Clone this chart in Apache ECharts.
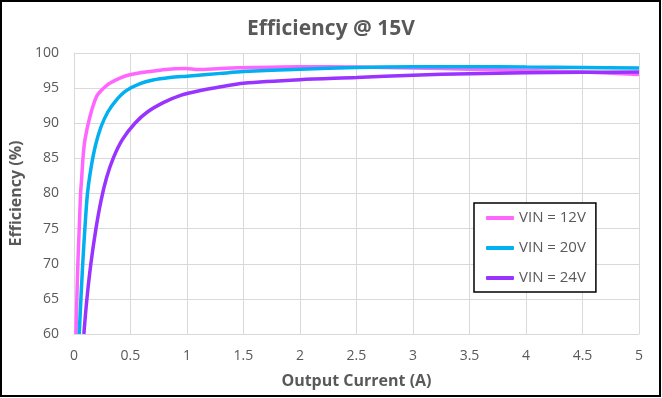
<!DOCTYPE html>
<html>
<head>
<meta charset="utf-8">
<script src="https://cdn.jsdelivr.net/npm/echarts@6/dist/echarts.min.js"></script>
<style>
  html, body { margin: 0; padding: 0; background: #fff; }
  #chart { width: 662px; height: 398px; }
</style>
</head>
<body>
<div id="chart"></div>
<script>
// data (output current A, efficiency %)
const seriesNames = ['VIN = 12V', 'VIN = 20V', 'VIN = 24V']

const x12 = [0.018, 0.026, 0.035, 0.047, 0.059, 0.068, 0.08, 0.097, 0.141, 0.2, 0.244, 0.317, 0.494, 0.788, 0.99, 1.1, 1.3, 1.6, 2.0, 2.5, 3.0, 3.5, 4.0, 4.5, 5.0]
const y12 = [60, 65, 70, 75, 80, 82, 85, 87.6, 90.9, 93.8, 94.7, 95.7, 96.9, 97.6, 97.8, 97.65, 97.8, 97.95, 98.05, 98.0, 97.85, 97.7, 97.5, 97.3, 96.95]

const x20 = [0.047, 0.062, 0.078, 0.097, 0.12, 0.15, 0.19, 0.24, 0.3, 0.37, 0.46, 0.58, 0.7, 0.85, 1.0, 1.3, 1.5, 2.0, 2.5, 3.0, 3.5, 4.0, 4.5, 5.0]
const y20 = [60, 65, 70, 75, 80, 83.5, 86.8, 89.5, 91.6, 93.2, 94.6, 95.6, 96.15, 96.5, 96.7, 97.1, 97.35, 97.7, 97.95, 98.05, 98.05, 98.0, 97.95, 97.85]

const x24 = [0.088, 0.115, 0.15, 0.195, 0.24, 0.29, 0.35, 0.43, 0.54, 0.65, 0.8, 0.95, 1.1, 1.3, 1.5, 2.0, 2.5, 3.0, 3.5, 4.0, 4.5, 5.0]
const y24 = [60, 65, 70, 75, 79.0, 82.3, 85.1, 87.7, 90.0, 91.6, 93.0, 94.0, 94.6, 95.2, 95.7, 96.2, 96.5, 96.85, 97.05, 97.2, 97.25, 97.3]

const lineColors = ['#FF66FF', '#00B0F0', '#9933FF']

const pairs = (xs, ys) => xs.map((v, i) => [v, ys[i]])
const allData = [pairs(x12, y12), pairs(x20, y20), pairs(x24, y24)]

const font = "'Open Sans', sans-serif"
const textGray = '#595959'
const gridGray = '#D9D9D9'

const chart = echarts.init(document.getElementById('chart'))

chart.setOption({
    animation: false,
    title: {
        text: 'Efficiency @ 15V',
        left: 'center',
        top: 14,
        textStyle: { fontFamily: font, fontSize: 21, fontWeight: 'bold', color: textGray }
    },
    graphic: [{
        type: 'rect',
        shape: { x: 1, y: 1, width: 659, height: 395 },
        style: { fill: 'none', stroke: '#000', lineWidth: 2 },
        z: 100
    }],
    legend: {
        orient: 'vertical',
        left: 474,
        top: 203,
        width: 122,
        backgroundColor: '#fff',
        borderColor: '#000',
        borderWidth: 1.5,
        padding: [5, 10, 4, 12],
        itemGap: 10,
        itemWidth: 28,
        itemHeight: 4,
        icon: 'roundRect',
        textStyle: { fontFamily: font, fontSize: 15, color: textGray, lineHeight: 20 },
        data: seriesNames
    },
    grid: { left: 72, right: 23, top: 53, bottom: 64, containLabel: false },
    xAxis: {
        type: 'value',
        min: 0,
        max: 5,
        interval: 0.5,
        name: 'Output Current (A)',
        nameLocation: 'middle',
        nameGap: 39,
        nameTextStyle: { fontFamily: font, fontSize: 16, fontWeight: 'bold', color: textGray },
        axisLine: { show: true, lineStyle: { color: gridGray, width: 1 } },
        axisTick: { show: false },
        axisLabel: { fontFamily: font, fontSize: 14, color: textGray, margin: 15 },
        splitLine: { show: true, lineStyle: { color: gridGray, width: 1 } }
    },
    yAxis: {
        type: 'value',
        min: 60,
        max: 100,
        interval: 5,
        name: 'Efficiency (%)',
        nameLocation: 'middle',
        nameGap: 44,
        nameTextStyle: { fontFamily: font, fontSize: 16, fontWeight: 'bold', color: textGray },
        axisLine: { show: true, lineStyle: { color: gridGray, width: 1 } },
        axisTick: { show: false },
        axisLabel: { fontFamily: font, fontSize: 14, color: textGray, margin: 15 },
        splitLine: { show: true, lineStyle: { color: gridGray, width: 1 } }
    },
    series: seriesNames.map((name, i) => ({
        name,
        type: 'line',
        data: allData[i],
        showSymbol: false,
        smooth: 0.3,
        clip: true,
        itemStyle: { color: lineColors[i] },
        lineStyle: { color: lineColors[i], width: 3.5 }
    }))
})
</script>
</body>
</html>
